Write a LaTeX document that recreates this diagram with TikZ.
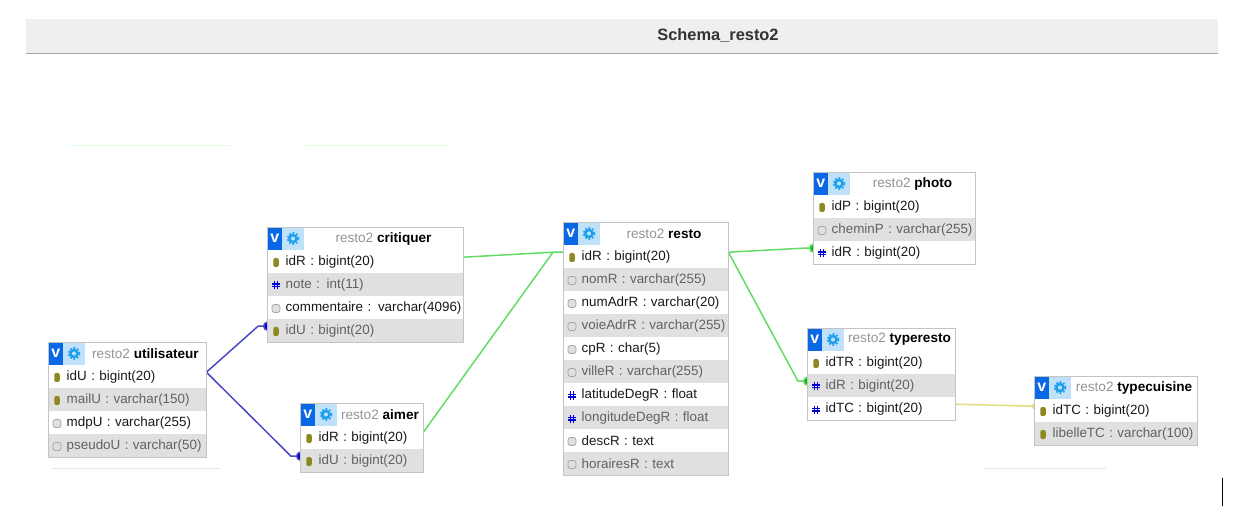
\documentclass[tikz,border=0pt]{standalone}
\usepackage{fontspec}
\setmainfont{Liberation Sans}
\usetikzlibrary{arrows.meta,backgrounds}
\definecolor{barfill}{HTML}{EFEFEF}
\definecolor{barline}{HTML}{A8A8A8}
\definecolor{tableline}{HTML}{C4C4C4}
\definecolor{rowshade}{HTML}{E0E0E0}
\definecolor{vblue}{HTML}{0A68E6}
\definecolor{gearback}{HTML}{BFE2FA}
\definecolor{gearblue}{HTML}{1E9FEE}
\definecolor{linkblue}{HTML}{4A4AC8}
\definecolor{linkgreen}{HTML}{62DC62}
\definecolor{linkyellow}{HTML}{DEDE7C}
\tikzset{
	rowbase/.style={anchor=north west, minimum height=23pt, inner xsep=0pt, inner ysep=0pt, align=left, font=\fontsize{13.4}{16}\selectfont},
	rowwhite/.style={rowbase, fill=white, text=black!90},
	rowgrey/.style={rowbase, fill=rowshade, text=black!62},
	tablebox/.style={draw=tableline, line width=1pt, anchor=north west, inner sep=0pt},
	tabletitle/.style={font=\fontsize{13.6}{16}\selectfont, inner sep=0pt, text=black!42},
	vicon/.style={fill=vblue, text=white, anchor=north west, minimum width=15pt, minimum height=23pt, inner sep=0pt, font=\fontsize{16}{16}\selectfont\bfseries},
	gearicon/.style={fill=gearback, anchor=north west, minimum width=22pt, minimum height=23pt, inner sep=0pt},
	gearwheel/.style={circle, draw=gearblue, line width=2.4pt, minimum size=7pt, inner sep=0pt},
	keyicon/.style={fill=olive!75!gray, rounded corners=2pt, minimum width=5.5pt, minimum height=9pt, inner sep=0pt},
	fieldicon/.style={draw=gray!70, fill=gray!25, rounded corners=2.5pt, line width=.8pt, minimum size=8pt, inner sep=0pt},
	hashicon/.style={minimum size=8pt, inner sep=0pt, path picture={
		\draw[blue!85!black, line width=1.2pt]
			([xshift=2.6pt]path picture bounding box.south west) -- ([xshift=2.6pt]path picture bounding box.north west)
			([xshift=5.4pt]path picture bounding box.south west) -- ([xshift=5.4pt]path picture bounding box.north west)
			([yshift=2.6pt]path picture bounding box.south west) -- ([yshift=2.6pt]path picture bounding box.south east)
			([yshift=5.4pt]path picture bounding box.south west) -- ([yshift=5.4pt]path picture bounding box.south east);}},
	bluelink/.style={draw=linkblue, line width=1.5pt},
	greenlink/.style={draw=linkgreen, line width=1.5pt},
	yellowlink/.style={draw=linkyellow, line width=1.5pt},
	bluedot/.style={-{Circle[fill=blue!85!black, length=8pt, width=9pt]}, shorten >=-4pt},
	greendot/.style={-{Circle[fill=green!75!black, length=8pt, width=9pt]}, shorten >=-4pt},
	yellowdot/.style={-{Circle[fill=linkyellow, length=5pt, width=5pt]}, shorten >=-2pt},
	scrap/.style={line width=1pt}
}
% name, left, top, width, table name, rows (icon/text)
\newcommand{\dbtable}[6]{
	\foreach \ic/\txt [count=\i] in {#6}{
		\pgfmathsetmacro{\rowtop}{#3+\i*23}
		\pgfmathsetmacro{\rowmid}{\rowtop+12.5}
		\pgfmathsetmacro{\icx}{#2+9}
		\ifodd\i\def\rowsty{rowwhite}\else\def\rowsty{rowgrey}\fi
		\node[\rowsty, text width=#4pt] (#1-\i) at (#2,\rowtop) {\hspace*{18.5pt}\raisebox{-1pt}{\txt}};
		\node[\ic] (#1-\i-ic) at (\icx,\rowmid) {};
		\xdef\rowcount{\i}
	}
	\pgfmathsetmacro{\boxh}{23+\rowcount*23}
	\pgfmathsetmacro{\gearx}{#2+15}
	\pgfmathsetmacro{\gearmidx}{#2+26}
	\pgfmathsetmacro{\titlex}{#2+(37+#4)/2}
	\pgfmathsetmacro{\titley}{#3+11.5}
	\node[vicon] (#1-v) at (#2,#3) {v};
	\node[gearicon] (#1-gear) at (\gearx,#3) {};
	\node[gearwheel] (#1-wheel) at (\gearmidx,\titley) {};
	\draw[gearblue, line width=1.6pt, dash pattern=on 1.8pt off 1.8pt] (#1-wheel) circle (5.6pt);
	\node[tabletitle] (#1-title) at (\titlex,\titley) {resto2 \textbf{\textcolor{black}{#5}}};
	\node[tablebox, minimum width=#4pt, minimum height=\boxh pt] (#1) at (#2,#3) {};
}
\begin{document}
\begin{tikzpicture}[x=1pt,y=-1pt]
	\useasboundingbox (0,0) rectangle (1242,526);
	% title bar
	\node[fill=barfill, anchor=north west, minimum width=1192pt, minimum height=34pt, inner sep=0pt] (bar) at (26,19) {};
	\draw[barline, line width=1pt] (bar.south west) -- (bar.south east);
	\node[font=\fontsize{16.4}{18}\selectfont\bfseries, text=black!80, inner sep=0pt] (schema) at (718,36) {Schema\_resto2};
	% tables
	\dbtable{utilisateur}{48}{342}{158}{utilisateur}{keyicon/idU : bigint(20), keyicon/mailU : varchar(150), fieldicon/mdpU : varchar(255), fieldicon/pseudoU : varchar(50)}
	\dbtable{critiquer}{267}{227}{196}{critiquer}{keyicon/idR : bigint(20), hashicon/note : int(11), fieldicon/commentaire : varchar(4096), keyicon/idU : bigint(20)}
	\dbtable{aimer}{300}{403}{123}{aimer}{keyicon/idR : bigint(20), keyicon/idU : bigint(20)}
	\dbtable{resto}{563}{222}{165}{resto}{keyicon/idR : bigint(20), fieldicon/nomR : varchar(255), fieldicon/numAdrR : varchar(20), fieldicon/voieAdrR : varchar(255), fieldicon/cpR : char(5), fieldicon/villeR : varchar(255), hashicon/latitudeDegR : float, hashicon/longitudeDegR : float, fieldicon/descR : text, fieldicon/horairesR : text}
	\dbtable{photo}{813}{172}{162}{photo}{keyicon/idP : bigint(20), fieldicon/cheminP : varchar(255), hashicon/idR : bigint(20)}
	\dbtable{typeresto}{807}{328}{148}{typeresto}{keyicon/idTR : bigint(20), hashicon/idR : bigint(20), hashicon/idTC : bigint(20)}
	\dbtable{typecuisine}{1034}{376}{163}{typecuisine}{keyicon/idTC : bigint(20), keyicon/libelleTC : varchar(100)}
	% links between tables
	\begin{scope}[on background layer]
		\draw[bluelink, bluedot] ([yshift=4.5pt]utilisateur-1.east) -- ([xshift=-9pt,yshift=4.5pt]critiquer-4.west) -- ([yshift=4.5pt]critiquer-4.west);
		\draw[bluelink, bluedot] ([yshift=4.5pt]utilisateur-1.east) -- ([xshift=-9pt,yshift=4.5pt]aimer-2.west) -- ([yshift=4.5pt]aimer-2.west);
		\draw[greenlink] ([yshift=4.5pt]critiquer-1.east) -- ([xshift=-10pt,yshift=4.5pt]resto-1.west) -- ([yshift=4.5pt]resto-1.west);
		\draw[greenlink] ([yshift=5.5pt]aimer-1.east) -- ([xshift=-10pt,yshift=4.5pt]resto-1.west);
		\draw[greenlink, greendot] ([yshift=4.5pt]resto-1.east) -- ([xshift=-10pt,yshift=4.5pt]photo-3.west) -- ([yshift=4.5pt]photo-3.west);
		\draw[greenlink, greendot] ([yshift=4.5pt]resto-1.east) -- ([xshift=-9pt,yshift=4.5pt]typeresto-2.west) -- ([yshift=4.5pt]typeresto-2.west);
		\draw[yellowlink, yellowdot] ([yshift=4.5pt]typeresto-3.east) -- ([yshift=4.5pt]typecuisine-1.west);
	\end{scope}
	% leftovers of the screenshot
	\draw[scrap, green!14] (70,146) -- (230,146) (305,146) -- (450,146);
	\draw[scrap, black!10] (52,468) -- (220,468) (984,468) -- (1106,468);
	\draw[black, line width=1pt] (1222,478) -- (1222,506);
\end{tikzpicture}
\end{document}
